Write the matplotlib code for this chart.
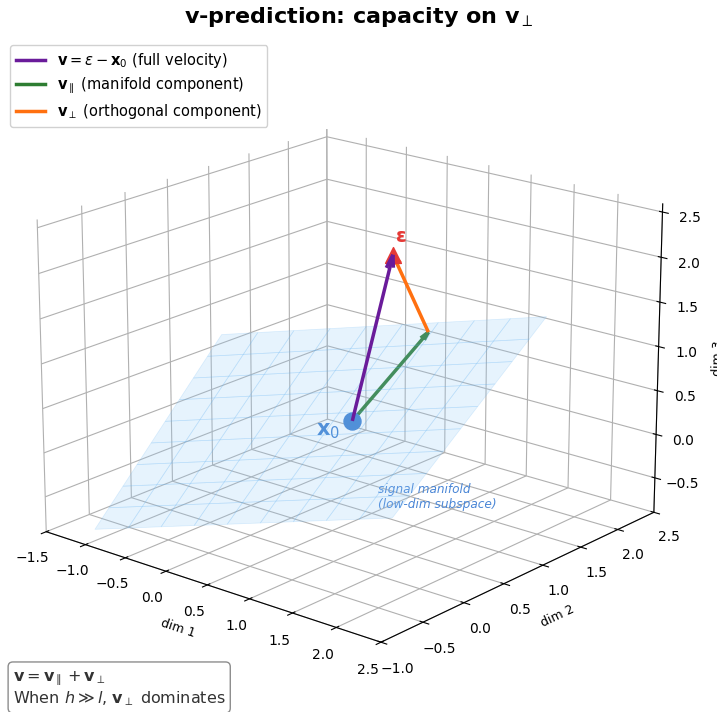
import numpy as np
import matplotlib.pyplot as plt

# points (dim1, dim2, dim3)
x0 = np.array([0.55, 0.7, 0.29])
foot = np.array([0.84, 1.35, 1.14])     # end of v_parallel
eps = np.array([0.65, 1.1, 2.04])

# manifold patch corners (front-left, front-right, back-right, back-left)
c_bl = np.array([-1.03, -0.86, -0.79])
c_br = np.array([1.0, 0.73, -0.7])
c_tr = np.array([1.79, 1.82, 1.39])
c_tl = np.array([-0.43, 0.1, 1.22])

v = eps - x0
v_par = foot - x0
v_perp = eps - foot

fig = plt.figure(figsize=(7.17, 7.12), dpi=100)
ax = fig.add_axes([0.0033, -0.0087, 0.95, 0.955], projection='3d')

s, t = np.meshgrid(np.linspace(0, 1, 10), np.linspace(0, 1, 10))
P = [(1 - s) * (1 - t) * c_bl[i] + s * (1 - t) * c_br[i] + s * t * c_tr[i] + (1 - s) * t * c_tl[i]
     for i in range(3)]
ax.plot_surface(P[0], P[1], P[2], color='#90CAF9', alpha=0.22, edgecolor='#64B5F6',
                linewidth=0.5, shade=False)

ax.quiver(*x0, *v, color='#6A1B9A', linewidth=2.5, arrow_length_ratio=0.08)
ax.quiver(*x0, *v_par, color='#2E7D32', linewidth=2.5, arrow_length_ratio=0.08)
ax.quiver(*foot, *v_perp, color='#FF7010', linewidth=2.5, arrow_length_ratio=0.12)

ax.scatter(*x0, color='#4080D0', s=150, depthshade=False)
ax.scatter(*eps, color='#E53935', s=130, marker='^', depthshade=False)

ax.text(x0[0] - 0.15, x0[1] - 0.15, x0[2] - 0.1, r'$\mathbf{x}_0$', color='#4080D0',
        fontsize=15, fontweight='bold', ha='center', va='center')
ax.text(eps[0] + 0.05, eps[1] + 0.05, eps[2] + 0.2, 'ε', color='#E53935',
        fontsize=14, fontweight='bold', ha='center', va='center')
ax.text(0.97, 0.58, -0.41, 'signal manifold\n(low-dim subspace)', color='#4A86D6',
        fontsize=8.7, style='italic', ha='left', va='center')

# legend proxies
ax.plot([], [], color='#6A1B9A', linewidth=2.5, label=r'$\mathbf{v} = \varepsilon - \mathbf{x}_0$ (full velocity)')
ax.plot([], [], color='#2E7D32', linewidth=2.5, label=r'$\mathbf{v}_\parallel$ (manifold component)')
ax.plot([], [], color='#FF7010', linewidth=2.5, label=r'$\mathbf{v}_\perp$ (orthogonal component)')
fig.legend(loc='upper left', bbox_to_anchor=(0.004, 0.947), fontsize=10.5,
           labelspacing=0.4, framealpha=0.9)

ax.set_xlim(-1.5, 2.5)
ax.set_ylim(-1, 2.5)
ax.set_zlim(-0.9, 2.59)
ax.set_xlabel('dim 1', fontsize=9)
ax.set_ylabel('dim 2', fontsize=9)
ax.set_zlabel('dim 3', fontsize=9)
ax.view_init(elev=19, azim=-50)
for a in (ax.xaxis, ax.yaxis, ax.zaxis):
    a.set_pane_color((1, 1, 1, 0))

fig.suptitle(r'v-prediction: capacity on $\mathbf{v}_\perp$', fontsize=16,
             fontweight='bold', y=0.993)

fig.text(0.018, 0.012, r'$\mathbf{v} = \mathbf{v}_\parallel + \mathbf{v}_\perp$' + '\n'
         + r'When $h \gg l$, $\mathbf{v}_\perp$ dominates', fontsize=11.5, color='#333333',
         bbox=dict(boxstyle='round', facecolor='white', edgecolor='gray', alpha=0.9))

fig.savefig('out.png', dpi=100)
